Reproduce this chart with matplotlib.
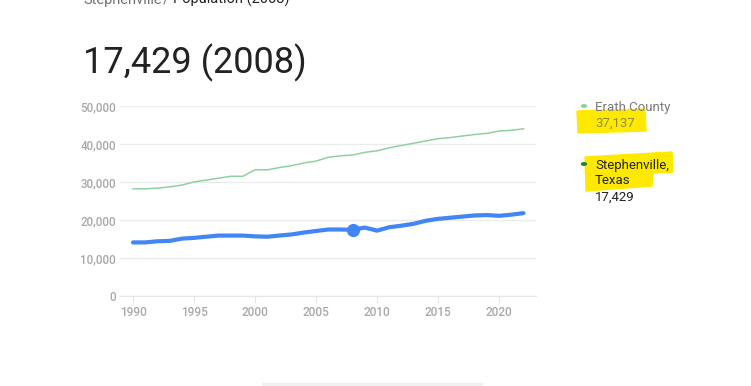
import matplotlib.pyplot as plt
from matplotlib.patches import Polygon
from matplotlib.ticker import FuncFormatter

plt.rcParams['font.family'] = ['Roboto', 'DejaVu Sans']

years = list(range(1990, 2023))
erath = [28.2, 28.2, 28.4, 28.7, 29.2, 30.0, 30.5, 31.0, 31.5, 31.5,
         33.2, 33.2, 33.8, 34.3, 35.0, 35.5, 36.5, 36.9, 37.1, 37.8,
         38.2, 39.0, 39.6, 40.2, 40.8, 41.4, 41.7, 42.1, 42.5, 42.8,
         43.4, 43.6, 44.0]
stephenville = [14.1, 14.1, 14.4, 14.5, 15.1, 15.3, 15.6, 15.9, 15.9, 15.9,
                15.7, 15.6, 15.9, 16.2, 16.7, 17.1, 17.5, 17.5, 17.429, 18.0,
                17.2, 18.1, 18.5, 19.0, 19.8, 20.3, 20.6, 20.9, 21.2, 21.3,
                21.1, 21.4, 21.8]
erath = [v * 1000 for v in erath]
stephenville = [v * 1000 for v in stephenville]
y_ticks = [0, 10000, 20000, 30000, 40000, 50000]
x_ticks = [1990, 1995, 2000, 2005, 2010, 2015, 2020]
sel_year = 2008

fig = plt.figure(figsize=(7.51, 3.86), dpi=100)
ax = fig.add_axes([120 / 751, 1 - 296 / 386, 416 / 751, 190 / 386])

ax.plot(years, erath, color='#8fd19e', lw=1.1)
ax.plot(years, stephenville, color='#4285f4', lw=3, solid_capstyle='round')
i = years.index(sel_year)
ax.plot(years[i], stephenville[i], 'o', color='#4285f4', ms=8.5)

ax.set_xlim(1988.93, 2023.03)
ax.set_ylim(0, 50000)
ax.set_yticks(y_ticks)
ax.set_xticks(x_ticks)
ax.yaxis.set_major_formatter(FuncFormatter(lambda v, p: f'{int(v):,}'))
ax.grid(axis='y', color='#ebebeb', lw=1)
ax.set_axisbelow(True)
for s in ['top', 'right', 'left']:
    ax.spines[s].set_visible(False)
ax.spines['bottom'].set_color('#e6e6e6')
ax.tick_params(axis='y', length=0, pad=3, labelsize=8.3, labelcolor='#a8a8a8')
ax.tick_params(axis='x', length=5, color='#e6e6e6', pad=2, labelsize=8.5,
               labelcolor='#a8a8a8')
for lab in ax.get_xticklabels() + ax.get_yticklabels():
    lab.set_fontweight('medium')

# header (cut off at the top edge, as in the screenshot)
fig.text(83 / 751, 1 - 4 / 386, 'Stephenville', color='#707070', fontsize=10.5)
fig.text(163 / 751, 1 - 4 / 386, '/', color='#707070', fontsize=10.5)
fig.text(173 / 751, 1 - 4 / 386, 'Population (2008)', color='#222222', fontsize=10.5)
fig.text(83 / 751, 1 - 73 / 386, '17,429 (2008)', color='#222222', fontsize=26)

# highlighter marks
hl1 = [(577, 111), (645, 109), (646, 131), (578, 133)]
hl2 = [(585, 157), (672, 152), (673, 172), (653, 173), (652, 186), (586, 191)]
for pts in (hl1, hl2):
    poly = Polygon([(x / 751, 1 - y / 386) for x, y in pts], closed=True,
                   transform=fig.transFigure, color='#ffe900', zorder=0)
    fig.patches.append(poly)

# legend
fig.patches.append(plt.Circle((584 / 751, 1 - 106 / 386), 0.0033,
                              transform=fig.transFigure, color='#8fd19e'))
fig.text(595 / 751, 1 - 107 / 386, 'Erath County', color='#7a7a7a',
         fontsize=9.5, va='center')
fig.text(595 / 751, 1 - 123 / 386, '37,137', color='#8f8f30',
         fontsize=9.5, va='center')
fig.patches.append(plt.Circle((584 / 751, 1 - 164 / 386), 0.0033,
                              transform=fig.transFigure, color='#2e7d32'))
fig.text(595 / 751, 1 - 165 / 386, 'Stephenville,', color='#222222',
         fontsize=9.5, va='center')
fig.text(595 / 751, 1 - 181 / 386, 'Texas', color='#222222',
         fontsize=9.5, va='center')
fig.text(595 / 751, 1 - 197 / 386, '17,429', color='#222222',
         fontsize=9.5, va='center')

# bottom faint bar
fig.patches.append(plt.Rectangle((262 / 751, 0), 220 / 751, 3 / 386,
                                 transform=fig.transFigure, color='#f1f1f1'))

fig.savefig('out.png', dpi=100)
